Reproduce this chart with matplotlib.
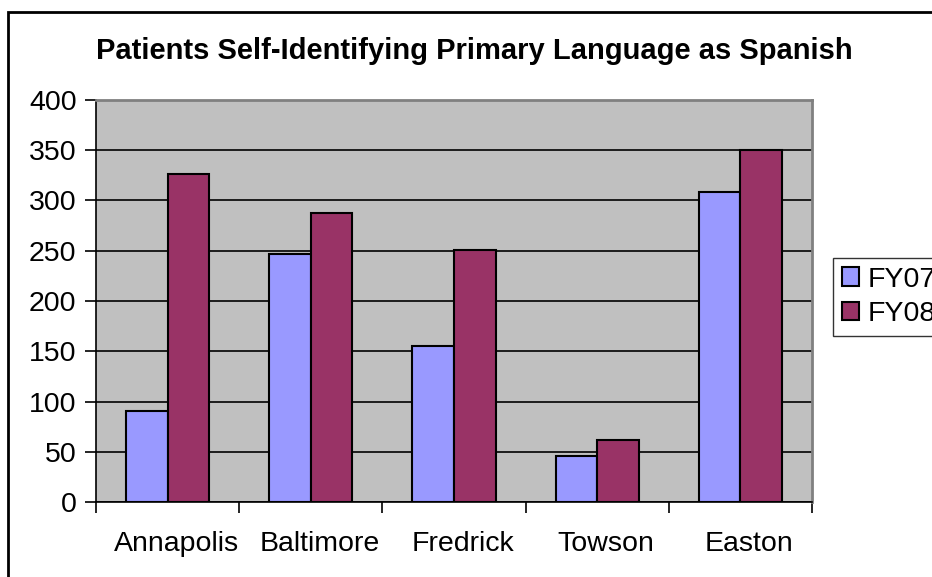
import matplotlib
matplotlib.use("Agg")
import matplotlib.pyplot as plt
import numpy as np
from matplotlib.patches import Rectangle

categories = ["Annapolis", "Baltimore", "Fredrick", "Towson", "Easton"]
fy07 = [91, 247, 155, 46, 308]
fy08 = [326, 288, 251, 62, 350]
series_names = ["FY07", "FY08"]
colors = ["#9999FF", "#993366"]
yticks = [0, 50, 100, 150, 200, 250, 300, 350, 400]
title = "Patients Self-Identifying Primary Language as Spanish"

plt.rcParams['font.family'] = ['Liberation Sans', 'DejaVu Sans']

fig = plt.figure(figsize=(9.32, 5.77), dpi=100)
ax = fig.add_axes([96/932, 1-502/577, (812-96)/932, (502-100)/577])
ax.set_facecolor("#C0C0C0")

x = np.arange(len(categories))
w = 0.29
ax.bar(x - w/2, fy07, w, color=colors[0], edgecolor="black", linewidth=1.5, label=series_names[0], zorder=3)
ax.bar(x + w/2, fy08, w, color=colors[1], edgecolor="black", linewidth=1.5, label=series_names[1], zorder=3)

ax.set_xlim(-0.5, len(categories) - 0.5)
ax.set_ylim(0, 400)
ax.set_yticks(yticks)
ax.set_yticklabels([str(v) for v in yticks], fontsize=20.5)
ax.yaxis.grid(True, color="black", linewidth=1.2, zorder=1)
ax.set_axisbelow(True)

ax.set_xticks(np.arange(-0.5, len(categories) + 0.5, 1.0))
ax.set_xticklabels([])
ax.set_xticks(x + 0.06, minor=True)
ax.set_xticklabels(categories, minor=True, fontsize=20.5)
ax.tick_params(axis="x", which="minor", length=0, pad=21)
ax.tick_params(axis="x", which="major", direction="out", length=8, width=1.2, color="black")
ax.tick_params(axis="y", direction="out", length=8, width=1.2, color="black", pad=6)

for s in ["top", "right"]:
    ax.spines[s].set_color("#808080")
    ax.spines[s].set_linewidth(2)
for s in ["left", "bottom"]:
    ax.spines[s].set_color("black")
    ax.spines[s].set_linewidth(1.2)

fig.text(474/932, 1-51/577, title, ha="center", va="center", fontsize=21, fontweight="bold")

leg = fig.legend(loc="upper left", bbox_to_anchor=(833/932, 1-258/577), fontsize=20.5,
                 frameon=True, fancybox=False, edgecolor="black", handlelength=0.6,
                 handleheight=0.6, handletextpad=0.3, borderpad=0.3, labelspacing=0.3,
                 borderaxespad=0)
leg.get_frame().set_linewidth(1.0)

fig.patches.append(Rectangle((8/932, -0.1), 1.2, 1 - 12/577 + 0.1, transform=fig.transFigure,
                             fill=False, edgecolor="black", linewidth=2, zorder=0))

fig.savefig("out.png", dpi=100)
